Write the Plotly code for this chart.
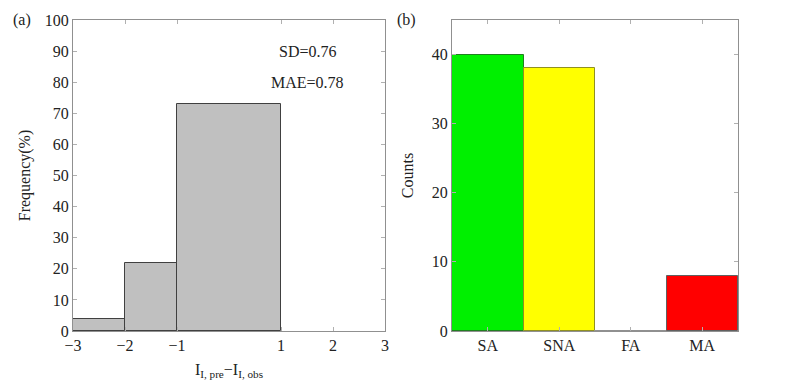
import plotly.graph_objects as go

bin_edges = [-3, -2, -1, 1]
freq = [4, 22, 73]
categories = ["SA", "SNA", "FA", "MA"]
counts = [40, 38, 0, 8]
bar_colors = ["#00f000", "#ffff00", "#ffffff", "#ff0000"]
edge_colors = ["#208020", "#909020", "#909090", "#606060"]
left_xticks = [-3, -2, -1, 1, 2, 3]
left_xticklabels = ["\u22123", "\u22122", "\u22121", "1", "2", "3"]

mids = [(bin_edges[i] + bin_edges[i + 1]) / 2 for i in range(len(freq))]
widths = [bin_edges[i + 1] - bin_edges[i] for i in range(len(freq))]

font = "Liberation Serif"
fs = 16
fig = go.Figure()
fig.add_trace(go.Bar(x=mids, y=freq, width=widths, marker=dict(color="#c0c0c0", line=dict(color="#404040", width=1)),
                     xaxis="x", yaxis="y", showlegend=False))
fig.add_trace(go.Bar(x=categories, y=counts, width=1, marker=dict(color=bar_colors, line=dict(color=edge_colors, width=1)),
                     xaxis="x2", yaxis="y2", showlegend=False))

axis_common = dict(showline=True, linecolor="#909090", linewidth=1, mirror="ticks", ticks="inside", ticklen=4,
                   tickcolor="#b0b0b0", showgrid=False, zeroline=False, automargin=False,
                   tickfont=dict(family=font, size=fs, color="#222"))
fig.update_layout(
    width=789, height=392, plot_bgcolor="white", paper_bgcolor="white",
    margin=dict(l=0, r=0, t=20, b=61), bargap=0,
    font=dict(family=font, color="#222"),
    xaxis=dict(domain=[73/789, 385/789], range=[-3, 3], tickvals=left_xticks, ticktext=left_xticklabels,
               title=dict(text="I<sub>I, pre</sub>\u2212I<sub>I, obs</sub>", font=dict(family=font, size=fs), standoff=10),
               **axis_common),
    yaxis=dict(domain=[0, 1], range=[0, 100], dtick=10,
               title=dict(text="Frequency(%)", font=dict(family=font, size=fs), standoff=10), **axis_common),
    xaxis2=dict(domain=[452/789, 738/789], range=[-0.5, 3.5], anchor="y2", **axis_common),
    yaxis2=dict(domain=[0, 1], range=[0, 45], tickvals=[0, 10, 20, 30, 40], anchor="x2",
                title=dict(text="Counts", font=dict(family=font, size=fs), standoff=14), **axis_common),
    annotations=[
        dict(text="(a)", x=22/789, y=1, xref="paper", yref="paper", xanchor="center", yanchor="middle", showarrow=False,
             font=dict(family=font, size=fs)),
        dict(text="(b)", x=406/789, y=1, xref="paper", yref="paper", xanchor="center", yanchor="middle", showarrow=False,
             font=dict(family=font, size=fs)),
        dict(text="SD=0.76", x=1.5, y=90, xref="x", yref="y", showarrow=False,
             font=dict(family=font, size=fs)),
        dict(text="MAE=0.78", x=1.5, y=80, xref="x", yref="y", showarrow=False,
             font=dict(family=font, size=fs)),
    ],
)
fig.write_html("out.html", post_script="document.body.style.margin='0';", config={"displayModeBar": False})
